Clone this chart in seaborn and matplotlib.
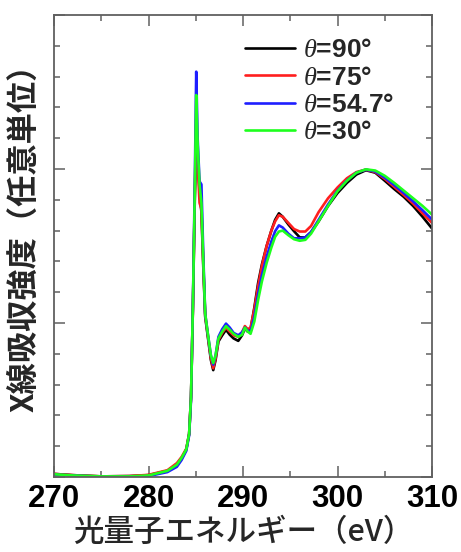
import numpy as np
import pandas as pd
import matplotlib
matplotlib.use("Agg")
import matplotlib.pyplot as plt
import seaborn as sns
from matplotlib.ticker import MultipleLocator

# ---------------- data ----------------
energy = [270, 272, 275, 278, 280, 282, 283, 283.5, 284, 284.3, 284.5, 284.7, 284.9,
          285.05, 285.2, 285.4, 285.6, 285.8, 286.0, 286.3, 286.6, 286.85, 287.1, 287.4,
          287.8, 288.2, 288.6, 289.0, 289.5, 289.9, 290.2, 290.5, 290.8, 291.2, 291.6,
          292.0, 292.5, 293.0, 293.4, 293.8, 294.2, 294.8, 295.4, 296.0, 296.6, 297.2,
          298.0, 299.0, 300.0, 301.0, 302.0, 303.0, 304.0, 305.0, 306.0, 307.0, 308.0,
          309.0, 310.0]

theta90 = [0.10, 0.06, 0.02, 0.03, 0.06, 0.20, 0.40, 0.60, 0.90, 1.40, 2.60, 5.5, 9.0,
           11.0, 10.4, 9.3, 8.6, 6.8, 5.2, 4.5, 3.8, 3.47, 3.8, 4.40,
           4.60, 4.78, 4.62, 4.50, 4.42, 4.60, 4.82, 4.72, 4.80, 5.50, 6.30,
           6.90, 7.50, 8.00, 8.35, 8.56, 8.45, 8.20, 7.98, 7.78, 7.78, 7.95,
           8.30, 8.80, 9.22, 9.55, 9.82, 9.96, 9.88, 9.62, 9.35, 9.10, 8.80,
           8.45, 8.07]

theta75 = [0.10, 0.06, 0.02, 0.03, 0.07, 0.22, 0.45, 0.65, 0.92, 1.40, 2.60, 5.5, 9.2,
           11.6, 10.2, 8.9, 8.7, 6.9, 5.25, 4.55, 3.85, 3.53, 3.85, 4.45,
           4.68, 4.85, 4.72, 4.60, 4.55, 4.70, 4.90, 4.80, 4.85, 5.45, 6.20,
           6.85, 7.50, 8.00, 8.30, 8.50, 8.45, 8.25, 8.05, 7.97, 7.97, 8.15,
           8.60, 9.05, 9.40, 9.70, 9.90, 9.98, 9.90, 9.68, 9.42, 9.16, 8.88,
           8.56, 8.25]

theta547 = [0.08, 0.05, 0.01, 0.01, 0.03, 0.16, 0.33, 0.55, 0.85, 1.35, 2.50, 5.6, 9.6,
            13.16, 11.0, 9.6, 9.5, 7.2, 5.3, 4.6, 3.95, 3.65, 3.95, 4.55,
            4.80, 4.98, 4.85, 4.68, 4.60, 4.70, 4.85, 4.75, 4.72, 5.20, 5.95,
            6.55, 7.15, 7.65, 7.98, 8.17, 8.10, 7.90, 7.75, 7.75, 7.78, 7.95,
            8.35, 8.85, 9.30, 9.63, 9.88, 9.98, 9.92, 9.72, 9.48, 9.22, 8.95,
            8.66, 8.36]

theta30 = [0.09, 0.05, 0.02, 0.02, 0.05, 0.20, 0.40, 0.62, 0.90, 1.40, 2.60, 5.6, 9.3,
           12.4, 10.8, 9.5, 8.9, 7.0, 5.3, 4.6, 3.95, 3.70, 3.95, 4.50,
           4.72, 4.90, 4.78, 4.65, 4.55, 4.62, 4.85, 4.72, 4.65, 5.05, 5.75,
           6.35, 6.95, 7.45, 7.80, 7.97, 8.00, 7.85, 7.72, 7.67, 7.70, 7.90,
           8.30, 8.80, 9.28, 9.62, 9.88, 9.99, 9.95, 9.78, 9.55, 9.30, 9.05,
           8.80, 8.52]

series_labels = [r"$\theta$=90°", r"$\theta$=75°", r"$\theta$=54.7°", r"$\theta$=30°"]
series_values = [theta90, theta75, theta547, theta30]
colors = ["#000000", "#ff1e1e", "#1e1eff", "#1eff1e"]

x_ticks = [270, 280, 290, 300, 310]
x_label = "光量子エネルギー（eV）"
y_label = "X線吸収強度（任意単位）"

# ---------------- frame ----------------
rows = []
for lab, vals in zip(series_labels, series_values):
    for e, v in zip(energy, vals):
        rows.append({"energy": e, "intensity": v, "angle": lab})
df = pd.DataFrame(rows)

sns.set_style("ticks")
plt.rcParams["font.family"] = ["Liberation Sans", "Noto Sans CJK JP", "DejaVu Sans"]
plt.rcParams["mathtext.fontset"] = "custom"
plt.rcParams["mathtext.it"] = "Liberation Serif:italic"
plt.rcParams["mathtext.rm"] = "Liberation Serif"

fig = plt.figure(figsize=(4.61, 5.52), dpi=100)
ax = fig.add_axes([54 / 461, 75 / 552, 378 / 461, 462 / 552])

sns.lineplot(data=df, x="energy", y="intensity", hue="angle",
             hue_order=series_labels, palette=colors, sort=False,
             linewidth=1.9, ax=ax, legend=True)

ax.set_xlim(270, 310)
ax.set_ylim(0, 15)
ax.xaxis.set_major_locator(MultipleLocator(10))
ax.xaxis.set_minor_locator(MultipleLocator(5))
ax.yaxis.set_major_locator(MultipleLocator(5))
ax.yaxis.set_minor_locator(MultipleLocator(1))
ax.set_xticks(x_ticks)
ax.set_yticklabels([])

spine_col = "#606060"
for s in ax.spines.values():
    s.set_color(spine_col)
    s.set_linewidth(1.3)
    s.set_visible(True)

ax.tick_params(axis="both", which="both", direction="in", color=spine_col, width=1.1,
               top=True, right=True, left=True, bottom=True)
ax.tick_params(axis="both", which="major", length=8)
ax.tick_params(axis="both", which="minor", length=4)
ax.tick_params(axis="x", which="major", pad=5)

for lab in ax.get_xticklabels():
    lab.set_fontfamily(["Liberation Sans", "DejaVu Sans"])
    lab.set_fontweight("bold")
    lab.set_fontsize(22.5)
    lab.set_color("black")

ax.set_xlabel(x_label, fontsize=22, family=["Noto Sans CJK JP", "DejaVu Sans"],
              fontweight="medium", labelpad=2)
ax.set_ylabel(y_label, fontsize=22.5, family=["Noto Sans CJK JP", "DejaVu Sans"],
              fontweight="bold")
ax.yaxis.set_label_coords(-0.035, 0.535)

handles, labels = ax.get_legend_handles_labels()
leg = ax.legend(handles, labels, loc="upper left", bbox_to_anchor=(0.505, 0.950),
                frameon=False, borderpad=0, borderaxespad=0, handlelength=1.9,
                handletextpad=0.3, labelspacing=0.13,
                prop={"family": "Liberation Sans", "weight": "bold", "size": 19})
for line in leg.get_lines():
    line.set_linewidth(1.9)

fig.savefig("out.png", dpi=100)
